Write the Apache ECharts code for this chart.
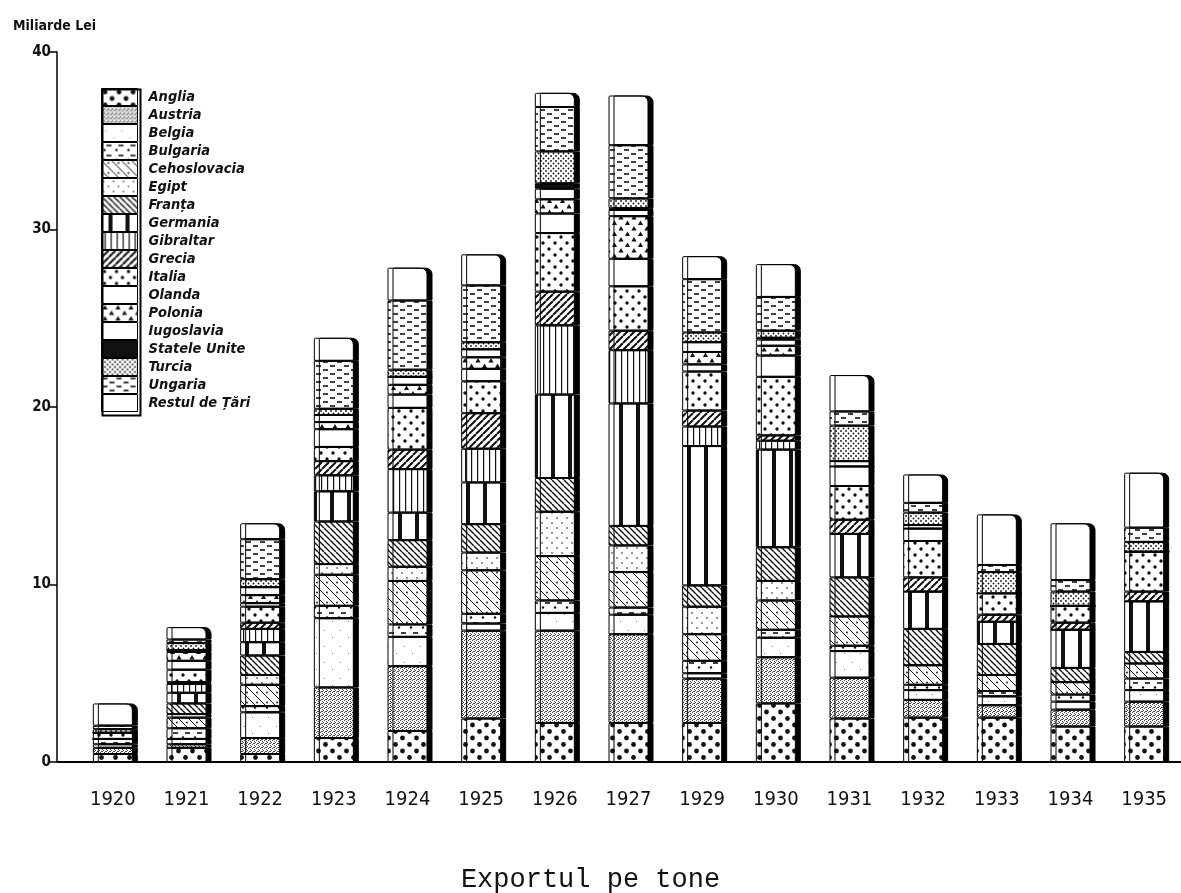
<!DOCTYPE html>
<html><head><meta charset="utf-8">
<script src="https://cdn.jsdelivr.net/npm/echarts@6/dist/echarts.min.js"></script>
<style>html,body{margin:0;padding:0;background:#fff}#chart{width:1181px;height:893px}</style>
</head><body><div id="chart"></div>
<script>
const years = ['1920','1921','1922','1923','1924','1925','1926','1927','1929','1930','1931','1932','1933','1934','1935'];
const countries = ['Anglia','Austria','Belgia','Bulgaria','Cehoslovacia','Egipt','Franța','Germania','Gibraltar','Grecia','Italia','Olanda','Polonia','Iugoslavia','Statele Unite','Turcia','Ungaria','Restul de Țări'];
const yTicks = [0, 10, 20, 30, 40];

const anglia       = [0.45,0.8,0.45,1.35,1.75,2.45,2.2,2.2,2.2,3.3,2.45,2.5,2.5,2.0,2.0];
const austria      = [0.35,0.2,0.9,2.85,3.65,4.95,5.2,5.0,2.5,2.6,2.3,1.0,0.7,0.95,1.4];
const belgia       = [0.2,0.3,1.45,3.9,1.65,0.4,1.0,1.1,0.3,1.1,1.5,0.55,0.5,0.45,0.65];
const bulgaria     = [0.3,0.6,0.35,0.7,0.7,0.55,0.7,0.4,0.7,0.45,0.3,0.3,0.3,0.4,0.65];
const cehoslovacia = [0,0.6,1.2,1.75,2.45,2.45,2.5,2.0,1.5,1.65,1.65,1.1,0.9,0.7,0.85];
const egipt        = [0,0.2,0.55,0.6,0.8,1.0,2.5,1.5,1.55,1.1,0,0,0,0,0];
const franta       = [0,0.6,1.1,2.4,1.5,1.6,1.9,1.1,1.2,1.9,2.2,2.05,1.75,0.8,0.65];
const germania     = [0,0.6,0.75,1.7,1.55,2.35,4.7,6.9,7.85,5.5,2.45,2.1,1.25,2.15,2.85];
const gibraltar    = [0,0.5,0.75,0.9,2.45,1.9,3.9,3.0,1.1,0.5,0,0,0,0,0];
const grecia       = [0,0.1,0.35,0.8,1.1,2.0,1.9,1.1,0.9,0.3,0.8,0.8,0.4,0.4,0.55];
const italia       = [0.35,0.7,0.9,0.8,2.35,1.8,3.3,2.5,2.2,3.3,1.9,2.05,1.2,0.95,2.25];
const olanda       = [0,0.5,0.2,1.0,0.75,0.7,1.1,1.55,0.4,1.2,1.1,0.7,0,0,0];
const polonia      = [0,0.5,0.45,0.4,0.55,0.65,0.8,2.4,0.7,0.55,0,0,0,0,0];
const iugoslavia   = [0,0.1,0.45,0.4,0.45,0.45,0.6,0.35,0.55,0.35,0.3,0.2,0,0,0];
const statele      = [0,0,0,0,0,0,0.3,0.1,0,0.1,0,0,0,0,0];
const turcia       = [0.2,0.4,0.45,0.35,0.4,0.4,1.8,0.55,0.55,0.4,2.0,0.7,1.2,0.8,0.55];
const ungaria      = [0.2,0.2,2.25,2.7,3.9,3.2,2.5,3.0,3.0,1.9,0.8,0.55,0.4,0.65,0.8];
const restul       = [1.25,0.7,0.9,1.3,1.85,1.75,0.8,2.8,1.3,1.85,2.05,1.6,2.85,3.2,3.1];

const seriesValues = [anglia,austria,belgia,bulgaria,cehoslovacia,egipt,franta,germania,gibraltar,grecia,italia,olanda,polonia,iugoslavia,statele,turcia,ungaria,restul];
const patternKinds = ['bigdots','stipple','sparse','dotdash','diagdots','lightdots','diag','thickvert','thinvert','diagfwd','meddots','blank','triangles','blank','black','densedots','dashes','blank'];

function pat(kind){
  const sizes={bigdots:[14,13],stipple:[4,4],sparse:[16,16],dotdash:[12,10],diagdots:[10,10],lightdots:[10,10],diag:[6,6],thickvert:[17,4],thinvert:[6,4],diagfwd:[7,7],meddots:[12,12],blank:[4,4],triangles:[13,11],black:[4,4],densedots:[5,5],dashes:[14,8]};
  const [w,h]=sizes[kind];
  const c=document.createElement('canvas'); c.width=w; c.height=h;
  const g=c.getContext('2d');
  g.fillStyle='#fff'; g.fillRect(0,0,w,h);
  g.fillStyle='#111'; g.strokeStyle='#111';
  const dot=(x,y,r)=>{g.beginPath();g.arc(x,y,r,0,Math.PI*2);g.fill();};
  const line=(x1,y1,x2,y2,lw)=>{g.lineWidth=lw;g.beginPath();g.moveTo(x1,y1);g.lineTo(x2,y2);g.stroke();};
  switch(kind){
    case 'bigdots': dot(3.5,3.5,2.4); dot(10.5,10,2.4); break;
    case 'stipple': g.fillStyle='#444'; [[0,0],[2,1],[1,3],[3,2],[2,3]].forEach(p=>g.fillRect(p[0],p[1],1,1)); break;
    case 'sparse': g.fillStyle='#888'; g.fillRect(4,6,1,1); g.fillRect(12,13,1,1); break;
    case 'dotdash': line(5,3,10,3,1.6); dot(3,7.5,1.2); break;
    case 'diagdots': [-w,0,w].forEach(k=>line(k,0,k+w,h,1)); dot(7,2.5,0.9); break;
    case 'lightdots': dot(2,3,0.8); dot(7,8,0.8); break;
    case 'diag': [-w,0,w].forEach(k=>line(k,0,k+w,h,1.4)); break;
    case 'thickvert': g.fillRect(7,0,4,h); break;
    case 'thinvert': g.fillRect(3,0,1.2,h); break;
    case 'diagfwd': [-w,0,w].forEach(k=>line(k+w,0,k,h,2)); break;
    case 'meddots': dot(3,3,1.7); dot(9,9,1.7); break;
    case 'triangles': [[3.5,3],[10,8.5]].forEach(p=>{g.beginPath();g.moveTo(p[0]-2.6,p[1]+2);g.lineTo(p[0]+2.6,p[1]+2);g.lineTo(p[0],p[1]-2.4);g.closePath();g.fill();}); break;
    case 'black': g.fillRect(0,0,w,h); break;
    case 'densedots': dot(1,1,0.9); dot(3.5,3.5,0.9); break;
    case 'dashes': line(1,2,6,2,1.6); line(8,6,13,6,1.6); break;
  }
  return {image:c, repeat:'repeat'};
}

const chart = echarts.init(document.getElementById('chart'), null, {renderer:'canvas'});
const series = countries.map((n,i)=>({
  name:n, type:'bar', stack:'total', barWidth:40,
  data: seriesValues[i],
  itemStyle:{
    color: pat(patternKinds[i]), borderColor:'#000', borderWidth:1,
    shadowColor:'#000', shadowOffsetX:5, shadowOffsetY:0, shadowBlur:0,
    borderRadius: i===countries.length-1 ? [1,6,0,0] : 0
  },
  emphasis:{disabled:true}
}));

chart.setOption({
  animation:false,
  backgroundColor:'#fff',
  title:[
    {text:'Miliarde Lei', left:8, top:14, textStyle:{fontSize:14, fontWeight:'bold', fontFamily:'DejaVu Sans Condensed', color:'#111'}},
    {text:'Exportul pe tone', left:'center', top:861, textStyle:{fontSize:27, fontWeight:'normal', fontFamily:'Liberation Mono', color:'#111'}}
  ],
  legend:{
    orient:'vertical', left:101, top:88, padding:0, itemWidth:36, itemHeight:17, itemGap:0,
    icon:'rect', selectedMode:false, data:countries,
    textStyle:{fontSize:14.5, lineHeight:18, fontStyle:'italic', fontWeight:'bold', fontFamily:'DejaVu Sans Condensed', color:'#111', padding:[0,0,0,6]},
    itemStyle:{borderColor:'#000', borderWidth:1, shadowColor:'rgba(0,0,0,0)', shadowBlur:0, shadowOffsetX:0}
  },
  graphic:[
    {type:'rect', left:100, top:87, shape:{width:38, height:326}, style:{fill:'none', stroke:'#000', lineWidth:2}, z:100},
    {type:'line', shape:{x1:57, y1:762, x2:77, y2:762}, style:{stroke:'#000', lineWidth:2}, z:100}
  ],
  grid:{left:76, right:0, top:52, bottom:131, containLabel:false},
  xAxis:{
    type:'category', data:years,
    axisLine:{lineStyle:{color:'#000', width:2}},
    axisTick:{show:false},
    axisLabel:{fontSize:20, fontFamily:'DejaVu Sans Condensed', color:'#111', margin:28}
  },
  yAxis:{
    type:'value', min:yTicks[0], max:yTicks[yTicks.length-1], interval:10, offset:19,
    axisLine:{show:true, lineStyle:{color:'#000', width:1.5}},
    axisTick:{show:true, length:7, lineStyle:{color:'#000', width:1.5}},
    splitLine:{show:false},
    axisLabel:{fontSize:15, fontWeight:'bold', fontFamily:'DejaVu Sans Condensed', color:'#111', margin:6}
  },
  series: series
});
</script>
</body></html>
